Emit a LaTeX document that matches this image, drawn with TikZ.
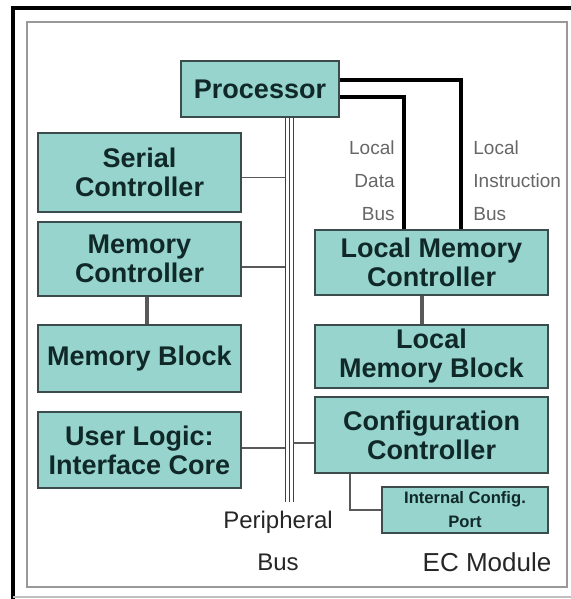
\documentclass[tikz,border=0pt]{standalone}
\usepackage{fontspec}
\setmainfont{Liberation Sans}
\usetikzlibrary{positioning}
\definecolor{boxfill}{RGB}{150,212,205}
\definecolor{boxline}{RGB}{60,75,75}
\definecolor{boxtext}{RGB}{16,40,40}
\tikzset{blk/.style={draw=boxline, fill=boxfill, line width=0.8pt, inner sep=0pt, align=center, text=boxtext, font=\bfseries\fontsize{13.5}{14.5}\selectfont}}
\tikzset{pbus/.style={draw=black!75, line width=0.5pt}}
\tikzset{lbus/.style={draw=black, line width=2pt}}
\tikzset{link/.style={draw=black!65, line width=0.8pt}}
\tikzset{lbl/.style={inner sep=0pt, text=black!60, font=\fontsize{9.5}{16.5}\selectfont}}
\tikzset{buscap/.style={inner sep=0pt, text=black!85, font=\fontsize{12}{12}\selectfont}}

\begin{document}
\begin{tikzpicture}[x=0.5pt, y=-0.5pt]
        \useasboundingbox (0,0) rectangle (571,599);
        % frames
        \draw[line width=1.6pt] (571,8) -- (13,8) -- (13,599);
        \draw[black!40, line width=1pt] (27,22) rectangle (567,587);
        \draw[black!25, line width=0.8pt] (13,597) -- (571,597);

        \node[blk, minimum width=79pt, minimum height=28pt] (proc) at (260,89) {Processor};

        \begin{scope}[on grid]
        \node[blk, minimum width=101.5pt, minimum height=39.5pt] (serial) at (139.5,172.5) {Serial\\Controller};
        \node[blk, minimum width=101.5pt, minimum height=37pt, below=43.25pt of serial] (memctrl) {Memory\\Controller};
        \node[blk, minimum width=101.5pt, minimum height=33.5pt, below=49.75pt of memctrl] (memblk) {Memory Block};
        \node[blk, minimum width=101.5pt, minimum height=38pt, below=45.75pt of memblk] (user) {User Logic:\\Interface Core};

        \node[blk, minimum width=116.5pt, minimum height=32.5pt] (lmc) at (431.5,262.5) {Local Memory\\Controller};
        \node[blk, minimum width=116.5pt, minimum height=31.5pt, below=47pt of lmc] (lmb) {Local\\Memory Block};
        \node[blk, minimum width=116.5pt, minimum height=38pt, below=39.25pt of lmb] (cfg) {Configuration\\Controller};
        \end{scope}
        \node[blk, minimum width=83pt, minimum height=23pt, font=\bfseries\fontsize{8.3}{12}\selectfont] (icp) at (465,510) {Internal Config.\\Port};

        % peripheral bus
        \coordinate (bus) at (289,502);
        \foreach \dx in {-2pt,0pt,2pt}
          \draw[pbus] ([xshift=\dx]proc.south -| bus) -- ([xshift=\dx]bus);

        \draw[link] ([yshift=-2.5pt]serial.east) -- ([xshift=-2pt,yshift=-2.5pt]serial.east -| bus);
        \draw[link] ([yshift=-4pt]memctrl.east) -- ([xshift=-2pt,yshift=-4pt]memctrl.east -| bus);
        \draw[link] ([yshift=1pt]user.east) -- ([xshift=-2pt,yshift=1pt]user.east -| bus);
        \draw[link] ([yshift=-4pt]cfg.west) -- ([xshift=2pt,yshift=-4pt]cfg.west -| bus);

        \draw[link, line width=2pt] ([xshift=3.75pt]memctrl.south) -- ([xshift=3.75pt]memblk.north);
        \draw[link, line width=2pt] ([xshift=-4.75pt]lmc.south) -- ([xshift=-4.75pt]lmb.north);
        \draw[link] ([xshift=-40.75pt]cfg.south) |- (icp.west);

        % local buses
        \coordinate (dbus) at (404,0);
        \coordinate (ibus) at (461,0);
        \draw[lbus] ([yshift=4.5pt]proc.east) -| (ibus |- lmc.north);
        \draw[lbus] ([yshift=-4pt]proc.east) -| (dbus |- lmc.north);

        \node[lbl, align=right, anchor=north east] (dlbl) at (395,140) {Local\\Data\\Bus};
        \node[lbl, align=left, anchor=north west] (ilbl) at (473,140) {Local\\Instruction\\Bus};

        \node[buscap] (plbl) at (278,522) {Peripheral};
        \node[buscap] (blbl) at (278,562) {Bus};
        \node[buscap, font=\fontsize{13}{13}\selectfont] (eclbl) at (487,562) {EC Module};
\end{tikzpicture}
\end{document}
